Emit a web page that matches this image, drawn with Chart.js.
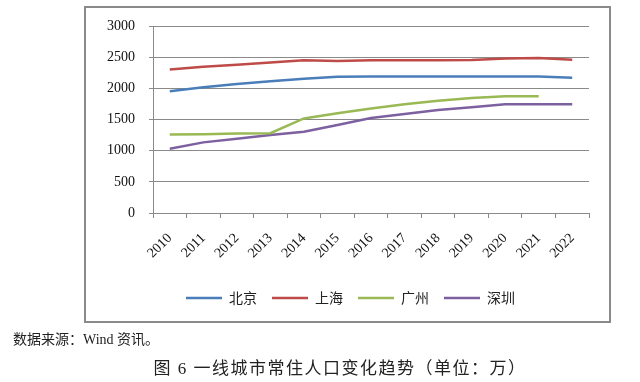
<!DOCTYPE html>
<html>
<head>
    <meta charset="utf-8">
    <title>一线城市常住人口变化趋势</title>
    <script src="https://cdn.jsdelivr.net/npm/chart.js"></script>
    <style>
        body { margin: 0; background: #fff; }
        #wrap { position: relative; width: 640px; height: 382px; overflow: hidden; }
        #frame { position: absolute; left: 84px; top: 6px; width: 527px; height: 317px;
                 box-sizing: border-box; border: 2px solid #8a8a8a; pointer-events: none; }
        .note { position: absolute; white-space: nowrap; color: #222;
                font-family: "Liberation Serif", "Noto Sans CJK SC", serif; }
        #source { left: 13px; top: 328px; font-size: 14px; }
        #caption { left: 0; width: 680px; text-align: center; top: 354px;
                   font-size: 17px; letter-spacing: 1.5px; }
    </style>
</head>
<body>
<div id="wrap">
    <canvas id="myChart"></canvas>
    <div id="frame"></div>
    <div class="note" id="source">数据来源：Wind 资讯。</div>
    <div class="note" id="caption">图 6 一线城市常住人口变化趋势（单位：万）</div>
</div>
<script>
    // 年份
    const years = ['2010', '2011', '2012', '2013', '2014', '2015', '2016',
                   '2017', '2018', '2019', '2020', '2021', '2022'];

    // 常住人口（万）
    const beijing   = [1955, 2019, 2069, 2115, 2155, 2185, 2190, 2190, 2190, 2190, 2190, 2190, 2170];
    const shanghai  = [2302, 2347, 2380, 2415, 2450, 2440, 2450, 2450, 2450, 2455, 2480, 2485, 2460];
    const guangzhou = [1261, 1265, 1275, 1280, 1517, 1600, 1675, 1745, 1800, 1845, 1872, 1872, null];
    const shenzhen  = [1031, 1133, 1191, 1251, 1304, 1411, 1523, 1590, 1653, 1696, 1745, 1745, 1745];

    const yTicks = [0, 500, 1000, 1500, 2000, 2500, 3000];

    const gridColor = '#8a8a8a';

    function line(label, values, color) {
        return {
            label: label,
            data: values,
            borderColor: color,
            backgroundColor: color,
            borderWidth: 2.5,
            pointRadius: 0,
            tension: 0,
            fill: false
        };
    }

    const data = {
        labels: years,
        datasets: [
            line('北京', beijing, '#4a7ebb'),
            line('上海', shanghai, '#be4b48'),
            line('广州', guangzhou, '#98b954'),
            line('深圳', shenzhen, '#7d60a0')
        ]
    };

    // 图例整体右移一点，与原图对齐
    const legendShift = {
        id: 'legendShift',
        afterLayout(chart) {
            chart.legend.left += 6;
            chart.legend.right += 6;
        }
    };

    const config = {
        type: 'line',
        data: data,
        plugins: [legendShift],
        options: {
            responsive: true,
            maintainAspectRatio: false,
            animation: false,
            devicePixelRatio: 1,
            layout: {
                padding: { left: 100, right: 51, top: 26, bottom: 67 }
            },
            scales: {
                x: {
                    offset: true,
                    grid: {
                        offset: true,
                        drawOnChartArea: false,
                        drawTicks: true,
                        tickLength: 5,
                        color: gridColor
                    },
                    border: { color: gridColor, width: 1 },
                    ticks: {
                        minRotation: 45,
                        maxRotation: 45,
                        autoSkip: false,
                        padding: 12,
                        color: '#111',
                        font: { family: 'Liberation Serif', size: 14 }
                    },
                    afterFit: function (scale) { scale.height = 63; }
                },
                y: {
                    min: 0,
                    max: 3000,
                    afterBuildTicks: function (scale) {
                        scale.ticks = yTicks.map(v => ({ value: v }));
                    },
                    grid: {
                        color: gridColor,
                        tickLength: 4
                    },
                    border: { color: gridColor, width: 1 },
                    ticks: {
                        padding: 14,
                        color: '#111',
                        font: { family: 'Liberation Serif', size: 14 },
                        callback: function (v) { return String(v); }
                    },
                    afterFit: function (scale) { scale.width = 53; }
                }
            },
            plugins: {
                legend: {
                    position: 'bottom',
                    labels: {
                        usePointStyle: true,
                        pointStyle: 'line',
                        pointStyleWidth: 36,
                        padding: 15,
                        color: '#222',
                        font: { family: 'Noto Sans CJK SC', size: 14 }
                    }
                },
                tooltip: { enabled: false }
            }
        }
    };

    const myChart = new Chart(document.getElementById('myChart'), config);
</script>
</body>
</html>
